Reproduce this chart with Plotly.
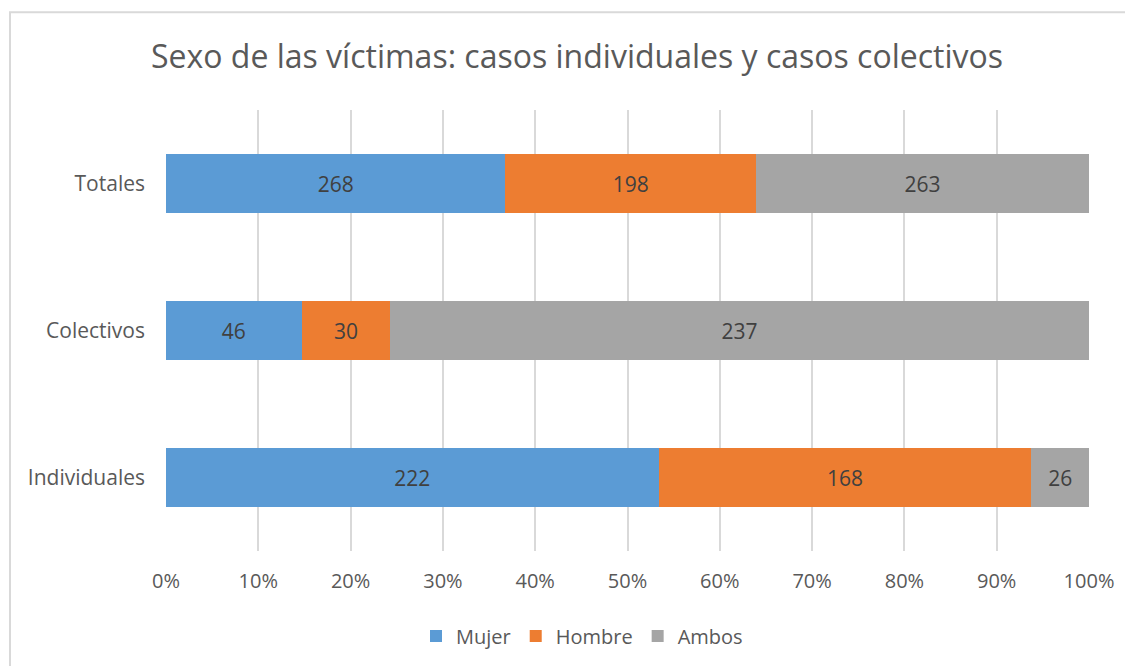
import plotly.graph_objects as go

categories = ["Individuales", "Colectivos", "Totales"]
mujer = [222, 46, 268]
hombre = [168, 30, 198]
ambos = [26, 237, 263]
x_ticks = [0, 10, 20, 30, 40, 50, 60, 70, 80, 90, 100]
x_tick_labels = [f"{t}%" for t in x_ticks]

FONT = "Open Sans"
series = [("Mujer", mujer, "#5B9BD5"), ("Hombre", hombre, "#ED7D31"), ("Ambos", ambos, "#A5A5A5")]

W, H = 1125, 658
fig = go.Figure()
for name, vals, col in series:
    fig.add_trace(go.Bar(
        name=name, y=categories, x=vals, orientation="h",
        marker=dict(color=col, line=dict(width=0)),
        text=[str(v) for v in vals], textposition="inside",
        insidetextanchor="middle",
        textfont=dict(family=FONT, size=21, color="#404040"),
        hoverinfo="x+y+name",
    ))

fig.update_layout(
    barmode="stack", barnorm="percent", bargap=0.6,
    width=W, height=H,
    margin=dict(l=158, r=44, t=102, b=114),
    paper_bgcolor="white", plot_bgcolor="white",
    font=dict(family=FONT, color="#595959"),
    title=dict(text="Sexo de las víctimas: casos individuales y casos colectivos",
               font=dict(family=FONT, size=32, color="#595959"),
               x=(577 - 166) / 923, xref="paper", xanchor="center",
               y=1 - 49 / H, yanchor="middle"),
    legend=dict(orientation="h", x=(582 - 166) / 923, xanchor="center", y=-0.19, yanchor="middle",
                font=dict(family=FONT, size=20, color="#595959"), traceorder="normal",
                itemwidth=30),
    xaxis=dict(range=[0, 100], tickvals=x_ticks, ticktext=x_tick_labels,
               showgrid=True, gridcolor="#D9D9D9", gridwidth=2, zeroline=False,
               showline=False, tickfont=dict(family=FONT, size=20, color="#595959"),
               ticklabelstandoff=16, fixedrange=True),
    yaxis=dict(showgrid=False, zeroline=False, showline=False,
               tickfont=dict(family=FONT, size=21, color="#595959"),
               ticklabelstandoff=20),
    shapes=[dict(type="rect", xref="paper", yref="paper",
                 x0=(10 - 166) / 923, x1=1.2, y0=-0.4, y1=1 + (110 - 12) / 442,
                 line=dict(color="#D9D9D9", width=2), fillcolor="rgba(0,0,0,0)", layer="below")],
)

fig.write_html("out.html")
